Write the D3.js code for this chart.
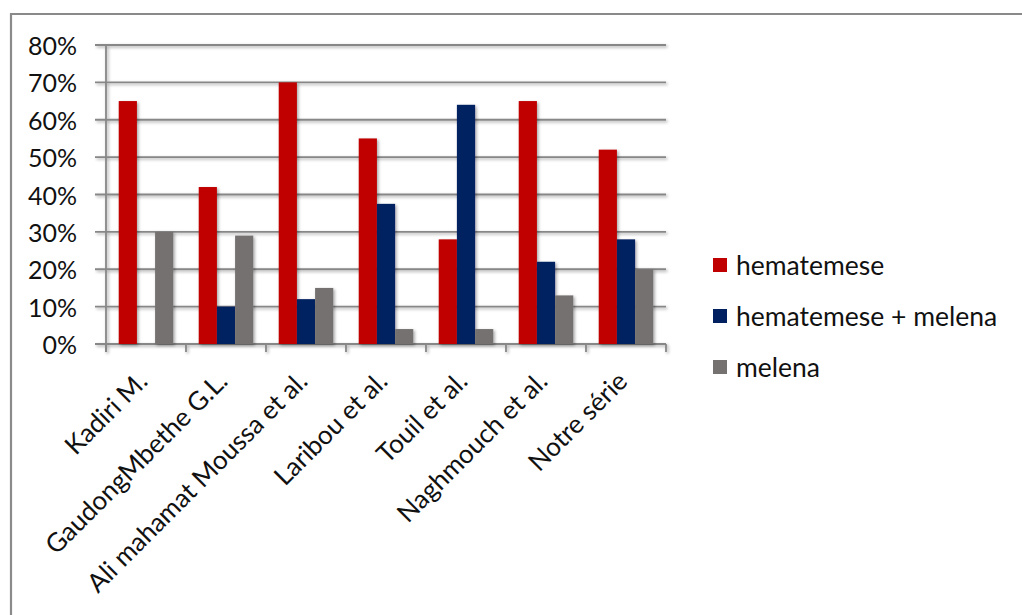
<!DOCTYPE html>
<html>
<head>
<meta charset="utf-8">
<script src="https://cdn.jsdelivr.net/npm/d3@7"></script>
<style>
  html, body { margin: 0; padding: 0; background: #ffffff; }
  svg { display: block; }
  text { font-family: Lato, "Liberation Sans", sans-serif; fill: #111; }
</style>
</head>
<body>
<svg id="chart" width="1022" height="615"></svg>
<script>
// Studies compared
const categories = [
  "Kadiri M.",
  "GaudongMbethe G.L.",
  "Ali mahamat Moussa et al.",
  "Laribou et al.",
  "Touil et al.",
  "Naghmouch et al.",
  "Notre série"
];

// Share of patients (%) for each presentation
const hematemese = [65, 42, 70, 55, 28, 65, 52];
const hematemeseMelena = [0, 10, 12, 37.5, 64, 22, 28];
const melena = [30, 29, 15, 4, 4, 13, 20];

const seriesNames = ["hematemese", "hematemese + melena", "melena"];
const seriesColors = ["#C00000", "#002060", "#767171"];
const yTicks = [0, 10, 20, 30, 40, 50, 60, 70, 80];

const seriesValues = [hematemese, hematemeseMelena, melena];
const rows = categories.map((c, i) => ({
  category: c,
  values: seriesNames.map((s, k) => ({ series: s, value: seriesValues[k][i], color: seriesColors[k] }))
}));

const svg = d3.select("#chart");
const gridColor = "#878787";

// soft shadow used by bars and grid lines
const defs = svg.append("defs");
const f = defs.append("filter").attr("id", "shadow")
  .attr("x", "-30%").attr("y", "-30%").attr("width", "160%").attr("height", "160%");
f.append("feDropShadow").attr("dx", 1.5).attr("dy", 1.5).attr("stdDeviation", 1.5)
  .attr("flood-color", "#000").attr("flood-opacity", 0.35);

// outer frame
svg.append("path")
  .attr("d", "M11,640 L11,14 L1040,14")
  .attr("fill", "none").attr("stroke", "#8a8a8a").attr("stroke-width", 2.2);

const plot = { left: 106, right: 666, top: 45, bottom: 344 };

const x0 = d3.scaleBand().domain(categories).range([plot.left, plot.right]).padding(0);
const x1 = d3.scaleBand().domain(seriesNames).range([0, x0.bandwidth()])
  .paddingInner(0).paddingOuter(0.7);
const y = d3.scaleLinear().domain([0, 80]).range([plot.bottom, plot.top]);

// horizontal grid lines with outside ticks on the value axis
const grid = svg.append("g").attr("filter", "url(#shadow)");
grid.selectAll("line.grid").data(yTicks).join("line")
  .attr("class", "grid")
  .attr("x1", plot.left - 11).attr("x2", plot.right)
  .attr("y1", d => y(d)).attr("y2", d => y(d))
  .attr("stroke", gridColor).attr("stroke-width", 1.8);

// value axis line
grid.append("line")
  .attr("x1", plot.left).attr("x2", plot.left)
  .attr("y1", plot.top).attr("y2", plot.bottom + 8)
  .attr("stroke", gridColor).attr("stroke-width", 1.8);

// category axis ticks
const catEdges = categories.map(c => x0(c)).concat([plot.right]);
grid.selectAll("line.ctick").data(catEdges).join("line")
  .attr("class", "ctick")
  .attr("x1", d => d).attr("x2", d => d)
  .attr("y1", plot.bottom).attr("y2", plot.bottom + 8)
  .attr("stroke", gridColor).attr("stroke-width", 1.8);

// value axis labels
svg.append("g").selectAll("text").data(yTicks).join("text")
  .attr("x", 77).attr("y", d => y(d))
  .attr("text-anchor", "end").attr("dominant-baseline", "central")
  .attr("font-size", 25)
  .text(d => d + "%");

// bars
const groups = svg.append("g").attr("filter", "url(#shadow)")
  .selectAll("g").data(rows).join("g")
  .attr("transform", d => `translate(${x0(d.category)},0)`);
groups.selectAll("rect").data(d => d.values.filter(v => v.value > 0)).join("rect")
  .attr("x", d => x1(d.series))
  .attr("width", x1.bandwidth())
  .attr("y", d => y(d.value))
  .attr("height", d => y(0) - y(d.value))
  .attr("fill", d => d.color);

// category labels, rotated
svg.append("g").selectAll("text").data(categories).join("text")
  .attr("text-anchor", "end")
  .attr("font-size", 26)
  .attr("transform", d => `translate(${x0(d) + x0.bandwidth() / 2 + 3},${plot.bottom + 39}) rotate(-45)`)
  .text(d => d);

// legend
const legend = svg.append("g").selectAll("g").data(seriesNames).join("g")
  .attr("transform", (d, i) => `translate(713,${265 + i * 51})`);
legend.append("rect")
  .attr("x", 0).attr("y", -7).attr("width", 14).attr("height", 14)
  .attr("fill", (d, i) => seriesColors[i]);
legend.append("text")
  .attr("x", 23).attr("y", 0)
  .attr("dominant-baseline", "central")
  .attr("font-size", 26.5)
  .text(d => d);
</script>
</body>
</html>
